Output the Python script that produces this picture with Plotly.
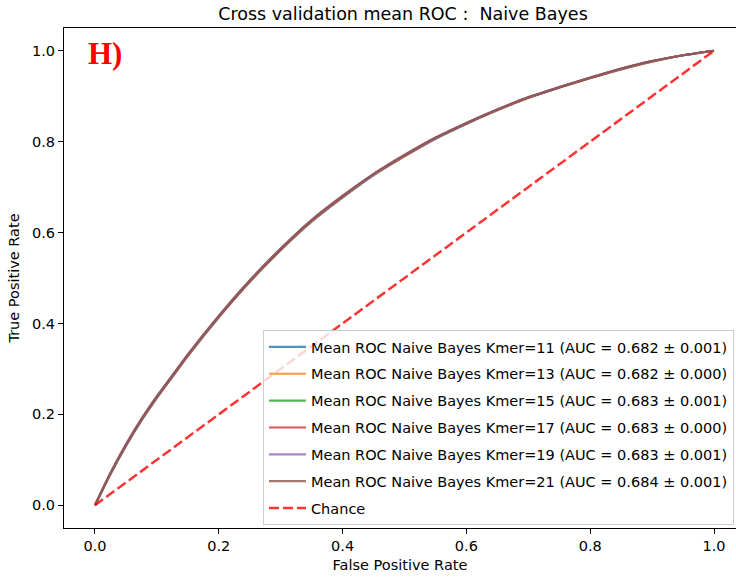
import plotly.graph_objects as go

FPR = [0, 0.025, 0.05, 0.075, 0.1, 0.125, 0.15, 0.2, 0.25, 0.3, 0.35, 0.4, 0.45, 0.5,
       0.55, 0.6, 0.65, 0.7, 0.75, 0.8, 0.85, 0.9, 0.95, 1.0]
TPR_K11 = [0, 0.068, 0.130, 0.186, 0.236, 0.282, 0.328, 0.413, 0.491, 0.561, 0.624, 0.677, 0.726, 0.768,
           0.806, 0.839, 0.869, 0.896, 0.919, 0.940, 0.959, 0.976, 0.990, 1.0]
TPR_K13 = [0, 0.069, 0.131, 0.187, 0.237, 0.283, 0.329, 0.414, 0.492, 0.562, 0.625, 0.678, 0.727, 0.768,
           0.807, 0.840, 0.869, 0.896, 0.919, 0.940, 0.959, 0.976, 0.990, 1.0]
TPR_K15 = [0, 0.070, 0.132, 0.188, 0.238, 0.284, 0.330, 0.415, 0.493, 0.563, 0.626, 0.679, 0.728, 0.769,
           0.808, 0.840, 0.870, 0.897, 0.919, 0.940, 0.960, 0.977, 0.990, 1.0]
TPR_K17 = [0, 0.070, 0.132, 0.188, 0.238, 0.284, 0.330, 0.415, 0.493, 0.563, 0.626, 0.679, 0.728, 0.769,
           0.808, 0.840, 0.870, 0.897, 0.919, 0.940, 0.960, 0.977, 0.990, 1.0]
TPR_K19 = [0, 0.070, 0.133, 0.189, 0.239, 0.285, 0.331, 0.416, 0.494, 0.564, 0.627, 0.680, 0.728, 0.770,
           0.808, 0.841, 0.870, 0.897, 0.920, 0.941, 0.960, 0.977, 0.990, 1.0]
TPR_K21 = [0, 0.071, 0.134, 0.190, 0.240, 0.286, 0.332, 0.417, 0.495, 0.565, 0.628, 0.681, 0.729, 0.771,
           0.809, 0.841, 0.871, 0.898, 0.920, 0.941, 0.961, 0.977, 0.990, 1.0]

KMERS = [11, 13, 15, 17, 19, 21]
AUC_MEAN = [0.682, 0.682, 0.683, 0.683, 0.683, 0.684]
AUC_STD = [0.001, 0.000, 0.001, 0.000, 0.001, 0.001]
COLORS = ["rgba(31,119,180,0.8)", "rgba(255,127,14,0.8)", "rgba(44,160,44,0.8)",
          "rgba(214,39,40,0.8)", "rgba(148,103,189,0.8)", "rgba(140,86,75,0.8)"]
TPRS = [TPR_K11, TPR_K13, TPR_K15, TPR_K17, TPR_K19, TPR_K21]

CHANCE_X = [0, 1]
CHANCE_Y = [0, 1]

X_TICKS = [0.0, 0.2, 0.4, 0.6, 0.8, 1.0]
Y_TICKS = [0.0, 0.2, 0.4, 0.6, 0.8, 1.0]

FONT = "DejaVu Sans"
FS = 14.5

fig = go.Figure()
for i, k in enumerate(KMERS):
    fig.add_trace(go.Scatter(
        x=FPR, y=TPRS[i], mode="lines",
        line=dict(color=COLORS[i], width=2.2, shape="spline", smoothing=0.6),
        name=f"Mean ROC Naive Bayes Kmer={k} (AUC = {AUC_MEAN[i]:.3f} \u00b1 {AUC_STD[i]:.3f})",
        legendgroup=f"g{i}",
    ))
fig.add_trace(go.Scatter(
    x=CHANCE_X, y=CHANCE_Y, mode="lines",
    line=dict(color="rgba(255,0,0,0.8)", width=2.5, dash="10px,4px"),
    name="Chance", legendgroup="chance",
))

W, H = 736, 577
L, R, T, B = 64, 0, 28, 49

fig.update_layout(
    width=W, height=H,
    margin=dict(l=L, r=R, t=T, b=B, pad=0),
    paper_bgcolor="white", plot_bgcolor="white",
    font=dict(family=FONT, size=FS, color="#000"),
    title=dict(text="Cross validation mean ROC :  Naive Bayes",
               x=403 / W, xanchor="center", y=1 - 14 / H, yanchor="middle",
               font=dict(family=FONT, size=17.5, color="#000")),
    showlegend=True,
    legend=dict(
        x=(263 - L) / (W - L - R), xanchor="left",
        y=(H - B - 330) / (H - T - B), yanchor="top",
        bgcolor="rgba(255,255,255,0.8)", bordercolor="#cccccc", borderwidth=1,
        font=dict(family=FONT, size=FS, color="#000"),
        tracegroupgap=5,
        itemwidth=37,
    ),
    xaxis=dict(
        range=[-0.05, 1.0355], tickvals=X_TICKS, tickformat=".1f",
        showgrid=False, zeroline=False, showline=True, linecolor="black", linewidth=1,
        mirror=True, ticks="outside", ticklen=5, tickcolor="black",
        title=dict(text="False Positive Rate", standoff=6, font=dict(size=FS)),
        tickfont=dict(size=FS),
    ),
    yaxis=dict(
        range=[-0.05, 1.05], tickvals=Y_TICKS, tickformat=".1f",
        showgrid=False, zeroline=False, showline=True, linecolor="black", linewidth=1,
        mirror=False, ticks="outside", ticklen=5, tickcolor="black",
        title=dict(text="True Positive Rate", standoff=8, font=dict(size=FS)),
        tickfont=dict(size=FS),
    ),
)

fig.add_annotation(
    text="<b>H)</b>", xref="paper", yref="paper",
    x=(86 - L) / (W - L - R), xanchor="left",
    y=(H - B - 53) / (H - T - B), yanchor="middle",
    showarrow=False,
    font=dict(family="Liberation Serif", size=31, color="red"),
)

fig.write_html("out.html")
